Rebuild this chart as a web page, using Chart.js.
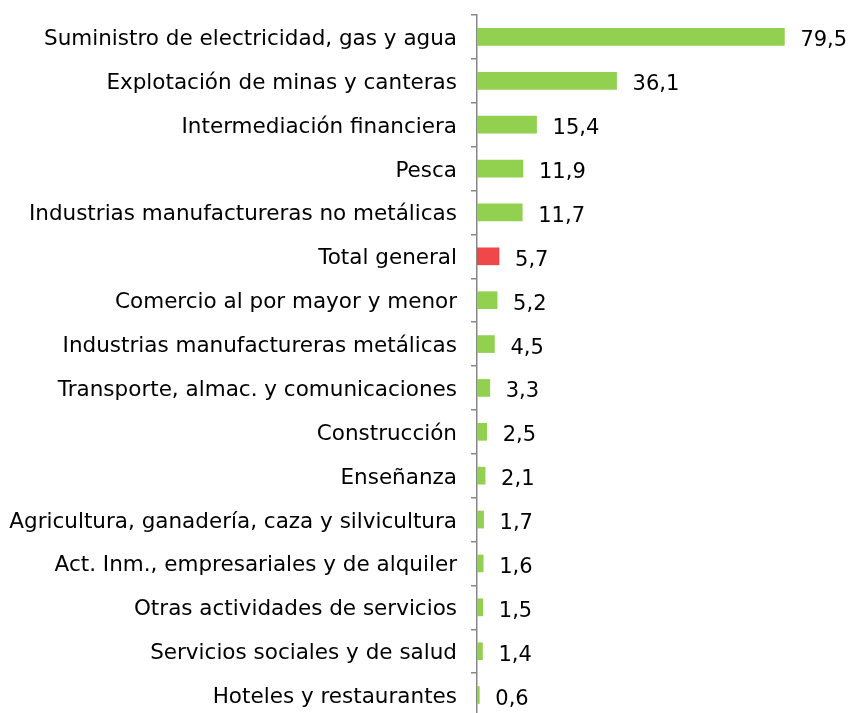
<!DOCTYPE html>
<html><head><meta charset="utf-8">
<script src="https://cdn.jsdelivr.net/npm/chart.js@4/dist/chart.umd.min.js"></script>
<style>html,body{margin:0;padding:0;background:#fff;overflow:hidden}#wrap{width:852px;height:717px;position:relative}</style>
</head><body><div id="wrap"><canvas id="c"></canvas></div>
<script>
const categories = ["Suministro de electricidad, gas y agua","Explotación de minas y canteras","Intermediación financiera","Pesca","Industrias manufactureras no metálicas","Total general","Comercio al por mayor y menor","Industrias manufactureras metálicas","Transporte, almac. y comunicaciones","Construcción","Enseñanza","Agricultura, ganadería, caza y silvicultura","Act. Inm., empresariales y de alquiler","Otras actividades de servicios","Servicios sociales y de salud","Hoteles y restaurantes"];
const values = [79.5,36.1,15.4,11.9,11.7,5.7,5.2,4.5,3.3,2.5,2.1,1.7,1.6,1.5,1.4,0.6];
const highlight = "Total general";
const green = "#92D050", red = "#F04848";
const colors = categories.map(c => c === highlight ? red : green);
const FONT = "'DejaVu Sans', Verdana, sans-serif";

const textLayer = {
  id: 'textLayer',
  afterDatasetsDraw(chart) {
    const ctx = chart.ctx;
    const meta = chart.getDatasetMeta(0);
    const yScale = chart.scales.y;
    ctx.save();
    ctx.fillStyle = "#000";
    ctx.textBaseline = "alphabetic";
    ctx.font = "21.5px " + FONT;
    ctx.textAlign = "right";
    categories.forEach((c, i) => {
      ctx.fillText(c, yScale.right - 20, yScale.getPixelForTick(i) + 8);
    });
    ctx.font = "21px " + FONT;
    ctx.textAlign = "left";
    meta.data.forEach((bar, i) => {
      ctx.fillText(values[i].toFixed(1).replace('.', ','), bar.x + 16, bar.y + 9.5);
    });
    ctx.restore();
  }
};

new Chart(document.getElementById('c'), {
  type: 'bar',
  data: { labels: categories, datasets: [{ data: values, backgroundColor: colors, barThickness: 17 }] },
  options: {
    indexAxis: 'y',
    responsive: true, maintainAspectRatio: false, animation: false,
    layout: { padding: { top: 15, right: 27, bottom: 0, left: 0 } },
    plugins: { legend: { display: false }, tooltip: { enabled: false } },
    scales: {
      x: { display: false, min: 0, max: 90 },
      y: {
        afterFit(s) { s.width = 477; s.paddingTop = 0; s.paddingBottom = 0; },
        grid: { drawOnChartArea: false, drawTicks: true, tickLength: 6, offset: true, color: "#878787", lineWidth: 1.5 },
        border: { display: true, color: "#878787", width: 1.5 },
        ticks: { color: "rgba(0,0,0,0)", font: { family: FONT, size: 21 }, padding: 14, autoSkip: false }
      }
    }
  },
  plugins: [textLayer]
});
</script></body></html>
